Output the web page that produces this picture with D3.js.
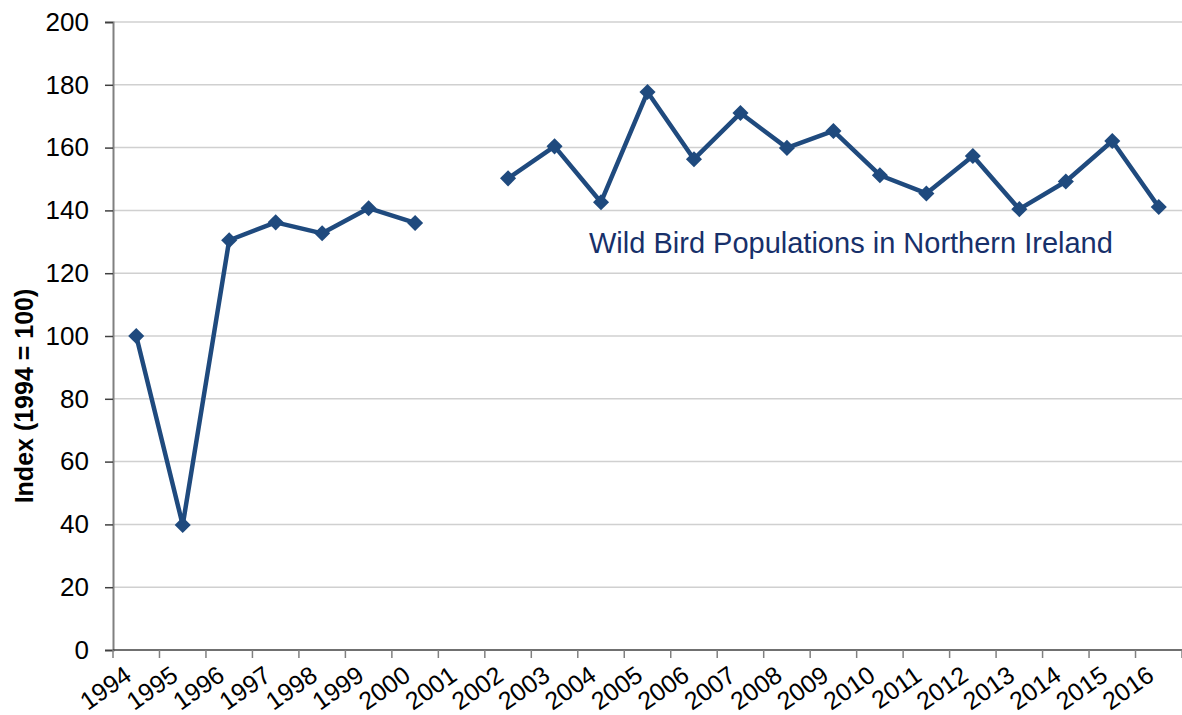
<!DOCTYPE html>
<html><head><meta charset="utf-8">
<script src="https://cdn.jsdelivr.net/npm/d3@7"></script>
<style>body{margin:0;background:#fff}svg{display:block}text{font-family:Arial,"Liberation Sans",sans-serif}</style>
</head><body><svg id="c" width="1182" height="715"></svg>
<script>
const years = ["1994","1995","1996","1997","1998","1999","2000","2001","2002","2003","2004","2005","2006","2007","2008","2009","2010","2011","2012","2013","2014","2015","2016"];
const values = [100,39.8,130.5,136.2,132.7,140.7,136,null,150.2,160.4,142.6,177.7,156.3,171,159.9,165.3,151.2,145.4,157.3,140.4,149.2,162.1,141.1];
const yTicks = [0,20,40,60,80,100,120,140,160,180,200];
const titleText = "Wild Bird Populations in Northern Ireland";
const yLabel = "Index (1994 = 100)";

const svg = d3.select("#c");
const m = {l:113, r:0, t:22, b:65};
const W = 1182, H = 715;
const x = d3.scaleBand().domain(years).range([m.l, W - m.r]);
const y = d3.scaleLinear().domain([0,200]).range([H - m.b, m.t]);
const col = "#1f4a7e";

// gridlines
svg.append("g").selectAll("line").data(yTicks.slice(1)).join("line")
  .attr("x1", m.l).attr("x2", W).attr("y1", d=>y(d)).attr("y2", d=>y(d))
  .attr("stroke","#d0d0d0").attr("stroke-width",1.5);

// y axis
const ya = svg.append("g").attr("transform",`translate(${m.l},0)`)
  .call(d3.axisLeft(y).tickValues(yTicks).tickSize(8).tickPadding(16));
ya.select(".domain").attr("stroke","#808080").attr("stroke-width",2);
ya.selectAll(".tick line").attr("stroke","#404040").attr("stroke-width",1.5);
ya.selectAll("text").attr("font-size",26).attr("fill","#000").attr("font-family","Arial, 'Liberation Sans', sans-serif");

// x axis
const xa = svg.append("g").attr("transform",`translate(0,${y(0)})`)
  .call(d3.axisBottom(x).tickSize(0).tickPadding(0));
xa.select(".domain").attr("stroke","#404040").attr("stroke-width",1.5).attr("d",`M${m.l},0H${W}`);
xa.selectAll(".tick text").remove();
xa.selectAll(".tick line").remove();
svg.append("g").selectAll("line").data(years.concat(["end"])).join("line")
  .attr("x1",(d,i)=> i<years.length ? x(d) : x(years[years.length-1])+x.bandwidth())
  .attr("x2",(d,i)=> i<years.length ? x(d) : x(years[years.length-1])+x.bandwidth())
  .attr("y1",y(0)).attr("y2",y(0)+8).attr("stroke","#808080").attr("stroke-width",1.5);
svg.append("g").selectAll("text").data(years).join("text")
  .attr("transform", d=>`translate(${x(d)+x.bandwidth()/2-3},${y(0)+29}) rotate(-35)`)
  .attr("text-anchor","end").attr("font-size",25).attr("fill","#000").text(d=>d);

// y label
svg.append("text").attr("transform",`translate(33,${(y(0)+y(200))/2+60}) rotate(-90)`)
  .attr("text-anchor","middle").attr("font-size",25).attr("font-weight","bold").text(yLabel);

// line
const pts = years.map((d,i)=>({year:d, v:values[i]}));
const line = d3.line().defined(d=>d.v!=null).x(d=>x(d.year)+x.bandwidth()/2).y(d=>y(d.v));
svg.append("path").datum(pts).attr("d",line).attr("fill","none").attr("stroke",col).attr("stroke-width",4.5).attr("stroke-linejoin","round");
svg.append("g").selectAll("path").data(pts.filter(d=>d.v!=null)).join("path")
  .attr("d", d3.symbol(d3.symbolDiamond2, 165)())
  .attr("transform", d=>`translate(${x(d.year)+x.bandwidth()/2},${y(d.v)})`)
  .attr("fill",col);
// title
svg.append("text").attr("x",589).attr("y",253).attr("font-size",29).attr("fill","#17306a").text(titleText);
</script></body></html>
